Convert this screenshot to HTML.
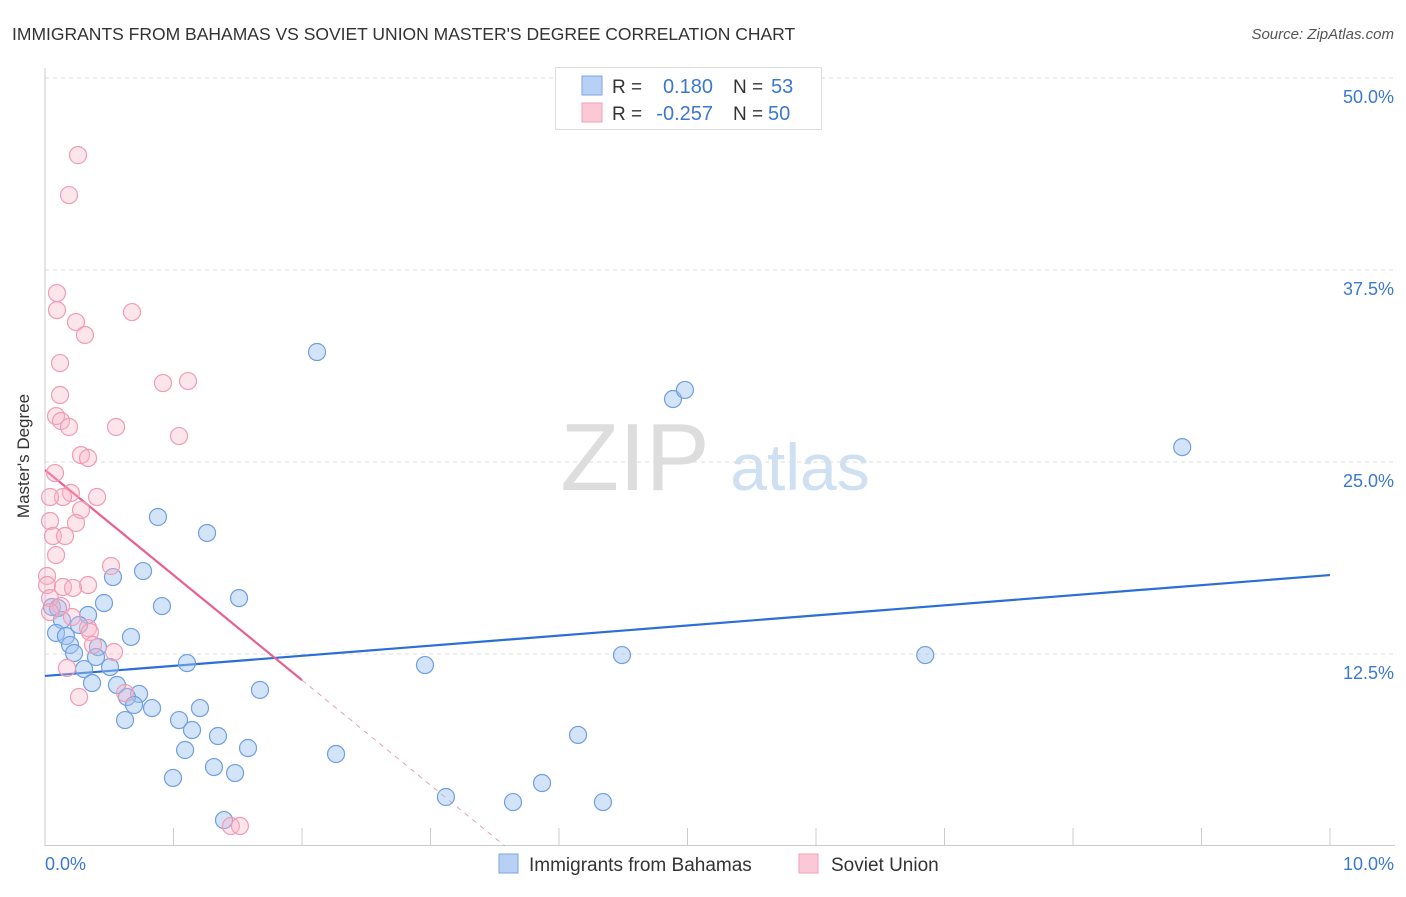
<!DOCTYPE html>
<html><head><meta charset="utf-8"><style>
body{margin:0;background:#fff;font-family:"Liberation Sans",sans-serif;}
svg text{font-family:"Liberation Sans",sans-serif;}
</style></head><body>
<svg id="chart" width="1406" height="892" xmlns="http://www.w3.org/2000/svg">
<text x="12" y="40" font-size="17.5" fill="#333">IMMIGRANTS FROM BAHAMAS VS SOVIET UNION MASTER'S DEGREE CORRELATION CHART</text>
<text x="1394" y="39" font-size="15" fill="#555" font-style="italic" text-anchor="end">Source: ZipAtlas.com</text>
<text x="29" y="456" font-size="17" fill="#333" text-anchor="middle" transform="rotate(-90 29 456)">Master's Degree</text>
<g><text x="635" y="490" font-size="96" fill="#ddd" font-family="Liberation Serif" text-anchor="middle">ZIP</text><text x="800" y="490" font-size="66" fill="#cfe0f3" text-anchor="middle">atlas</text></g>
<g id="grid"></g><g id="axes"></g><g id="lines"></g><g id="pts"></g>
<g>
<rect x="555.5" y="67.5" width="266" height="62" fill="#fff" stroke="#ddd"/>
<rect x="582" y="76" width="20" height="19" fill="#b8d0f4" stroke="#7aa6e4"/>
<rect x="582" y="103" width="20" height="19" fill="#fbc8d6" stroke="#f0a0b8"/>
<text x="612" y="93" font-size="19" fill="#333">R =</text><text x="713" y="93" font-size="20" fill="#3b78d0" text-anchor="end">0.180</text>
<text x="733" y="93" font-size="19" fill="#333">N =</text><text x="771" y="93" font-size="20" fill="#3b78d0">53</text>
<text x="612" y="120" font-size="19" fill="#333">R =</text><text x="713" y="120" font-size="20" fill="#3b78d0" text-anchor="end">-0.257</text>
<text x="733" y="120" font-size="19" fill="#333">N =</text><text x="768" y="120" font-size="20" fill="#3b78d0">50</text>
</g>
<g>
<rect x="499" y="854" width="19" height="19" fill="#b8d0f4" stroke="#7aa6e4"/>
<text x="529" y="871" font-size="19" fill="#333">Immigrants from Bahamas</text>
<rect x="799" y="854" width="19" height="19" fill="#fbc8d6" stroke="#f0a0b8"/>
<text x="831" y="871" font-size="19" fill="#333">Soviet Union</text>
</g>
</svg>
<script>
const xTicks=[0,1,2,3,4,5,6,7,8,9,10];
const yTicks=[12.5,25,37.5,50];
const yTickLabels=["12.5%","25.0%","37.5%","50.0%"];
const bahamasX=[2.117,4.887,4.98,8.85,0.879,1.261,0.529,0.763,1.51,0.459,0.910,0.054,0.101,0.335,0.132,0.265,0.086,0.163,0.669,0.195,0.412,0.226,0.397,4.49,6.85,1.105,2.957,0.506,0.304,0.366,0.56,1.673,0.732,0.638,0.693,0.833,1.206,0.623,1.043,1.144,1.346,4.148,1.58,1.09,2.265,1.315,1.479,0.996,3.868,3.12,3.642,4.342,1.393];
const bahamasY=[32.16,29.10,29.69,25.97,21.42,20.38,17.51,17.90,16.14,15.82,15.62,15.56,15.49,15.04,14.71,14.39,13.87,13.67,13.61,13.09,12.95,12.56,12.30,12.43,12.43,11.91,11.78,11.65,11.52,10.61,10.48,10.16,9.90,9.70,9.18,8.98,8.98,8.20,8.20,7.55,7.16,7.23,6.38,6.25,5.99,5.14,4.75,4.43,4.10,3.19,2.86,2.86,1.69];
const sovietX=[0.257,0.187,0.093,0.093,0.677,0.241,0.311,0.117,0.918,1.113,0.117,0.086,0.125,0.553,0.187,1.043,0.280,0.335,0.078,0.202,0.140,0.405,0.039,0.28,0.039,0.241,0.062,0.156,0.086,0.514,0.016,0.016,0.14,0.335,0.218,0.039,0.125,0.039,0.210,0.335,0.35,0.374,0.537,0.171,0.265,0.623,1.447,1.517];
const sovietY=[44.98,42.38,36.0,34.89,34.76,34.11,33.27,31.44,30.14,30.27,29.36,27.99,27.67,27.28,27.28,26.69,25.45,25.26,24.28,22.98,22.72,22.72,22.72,21.87,21.16,21.03,20.18,20.18,18.94,18.23,17.58,16.99,16.86,16.99,16.80,16.14,15.62,15.23,14.91,14.19,13.93,13.09,12.63,11.59,9.70,9.96,1.30,1.30];
const bahamasFit=[11.07,0.657];
const sovietFit=[24.48,-6.84];
const X=v=>45+v*128.5, Y=v=>846-v*15.36;
const NS="http://www.w3.org/2000/svg";
function mk(p,t,a){const e=document.createElementNS(NS,t);for(const k in a)e.setAttribute(k,a[k]);document.getElementById(p).appendChild(e);return e;}
yTicks.forEach((t,i)=>{
 const g=mk('grid','line',{x1:45,x2:1395,y1:Y(t),y2:Y(t),stroke:'#ddd','stroke-dasharray':'4,4'});
 
 
 const l=mk('grid','text',{x:1394,y:Y(t)+25,'font-size':18,fill:'#3b78d0','text-anchor':'end'});l.textContent=yTickLabels[i];
 
 
});
const ya=mk('axes','line',{x1:45,x2:45,y1:68,y2:846,stroke:'#ccc'});


const xa=mk('axes','line',{x1:45,x2:1395,y1:845.5,y2:845.5,stroke:'#ccc'});


xTicks.forEach(t=>{const k=mk('axes','line',{x1:X(t),x2:X(t),y1:828,y2:846,stroke:'#ccc'});
 
 });
const x0=mk('axes','text',{x:45,y:870,'font-size':18,fill:'#3b78d0'});x0.textContent='0.0%';


const x1=mk('axes','text',{x:1394,y:870,'font-size':18,fill:'#3b78d0','text-anchor':'end'});x1.textContent='10.0%';


function dots(xs,ys,fill,stroke,name){xs.forEach((x,i)=>{const c=mk('pts','circle',{cx:X(x),cy:Y(ys[i]),r:8.5,fill:fill,stroke:stroke,'stroke-width':1.2});
 
 });}
dots(bahamasX,bahamasY,'rgba(160,195,240,0.45)','#6f9fe0','bahamas-point');
dots(sovietX,sovietY,'rgba(248,180,200,0.35)','#f09cb6','soviet-point');
const bl=mk('lines','line',{x1:X(0),y1:Y(bahamasFit[0]),x2:X(10),y2:Y(bahamasFit[0]+10*bahamasFit[1]),stroke:'#2b6fd6','stroke-width':2.2});


const xe=-sovietFit[0]/sovietFit[1];
const sl=mk('lines','line',{x1:X(0),y1:Y(sovietFit[0]),x2:X(2),y2:Y(sovietFit[0]+2*sovietFit[1]),stroke:'#e8608e','stroke-width':2.2});


const sd=mk('lines','line',{x1:X(2),y1:Y(sovietFit[0]+2*sovietFit[1]),x2:X(xe),y2:Y(0),stroke:'#e8a0b8','stroke-width':1,'stroke-dasharray':'5,5'});


</script>
</body></html>
